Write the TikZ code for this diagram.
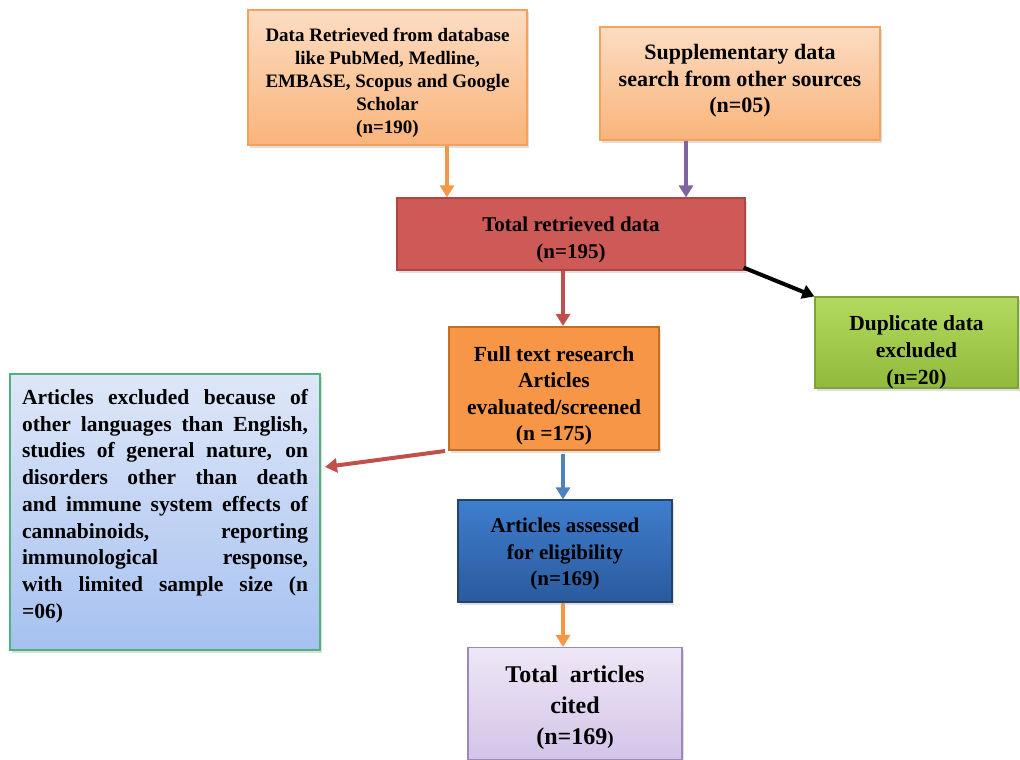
\documentclass[tikz,border=0pt]{standalone}
\usepackage{fontspec}
\setmainfont{Liberation Serif}
\usetikzlibrary{arrows.meta,shadows}
\definecolor{peachT}{HTML}{FCDCC2}
\definecolor{peachB}{HTML}{F9B47A}
\definecolor{peachD}{HTML}{F5A25C}
\definecolor{redF}{HTML}{CD5A56}
\definecolor{redD}{HTML}{B04642}
\definecolor{grnT}{HTML}{B3DA5E}
\definecolor{grnB}{HTML}{90BA3C}
\definecolor{grnD}{HTML}{7FA23A}
\definecolor{orgF}{HTML}{F79646}
\definecolor{orgD}{HTML}{C46E22}
\definecolor{bluT}{HTML}{DEE7F8}
\definecolor{bluB}{HTML}{A6C1F0}
\definecolor{bluD}{HTML}{4DB37A}
\definecolor{dbT}{HTML}{3F7ECE}
\definecolor{dbB}{HTML}{2A5A9D}
\definecolor{dbD}{HTML}{23426E}
\definecolor{lavT}{HTML}{EEE7F6}
\definecolor{lavB}{HTML}{D3C4E8}
\definecolor{lavD}{HTML}{9C88BA}
\definecolor{arOrg}{HTML}{F79646}
\definecolor{arPur}{HTML}{8064A2}
\definecolor{arRed}{HTML}{C0504D}
\definecolor{arBlu}{HTML}{4F81BD}
\begin{document}
\begin{tikzpicture}[x=1pt,y=-1pt,
  box/.style={draw, line width=1.2pt, inner sep=0pt,
    drop shadow={opacity=0.25, shadow xshift=2pt, shadow yshift=-2.5pt}},
  txt/.style={inner sep=0pt, align=center,
    font=\bfseries\fontsize{21}{26.5}\selectfont},
  arr/.style={line width=4pt, -{Triangle[width=14pt,length=12pt]}}
]
\useasboundingbox (0,0) rectangle (1020,760);

% boxes
\node[box, top color=peachT, bottom color=peachB, draw=peachD,
  minimum width=279pt, minimum height=135pt] (A) at (387.5,77.5) {};
\node[box, top color=peachT, bottom color=peachB, draw=peachD,
  minimum width=280pt, minimum height=113pt] (B) at (740,83.5) {};
\node[box, fill=redF, draw=redD,
  minimum width=348pt, minimum height=72pt] (C) at (571,234) {};
\node[box, top color=grnT, bottom color=grnB, draw=grnD,
  minimum width=203pt, minimum height=91pt] (D) at (916.5,342.5) {};
\node[box, fill=orgF, draw=orgD, line width=2pt,
  minimum width=210pt, minimum height=123pt] (E) at (554,388.5) {};
\node[box, top color=bluT, bottom color=bluB, draw=bluD,
  minimum width=310pt, minimum height=276pt] (F) at (165,512) {};
\node[box, top color=dbT, bottom color=dbB, draw=dbD,
  minimum width=214pt, minimum height=102pt] (G) at (565,551) {};
\node[box, top color=lavT, bottom color=lavB, draw=lavD,
  minimum width=214pt, minimum height=112pt] (H) at (575,703.5) {};

% texts
\node[txt, font=\bfseries\fontsize{19}{23}\selectfont] (At) at (387.5,82.5)
  {Data Retrieved from database\\like PubMed, Medline,\\EMBASE, Scopus and Google\\Scholar\\(n=190)};
\node[txt, font=\bfseries\fontsize{22}{26.5}\selectfont] (Bt) at (740,81)
  {Supplementary data\\search from other sources\\(n=05)};
\node[txt] (Ct) at (571,240) {Total retrieved data\\(n=195)};
\node[txt, font=\bfseries\fontsize{21.5}{27}\selectfont] (Dt) at (916.5,352)
  {Duplicate data\\excluded\\(n=20)};
\node[txt, font=\bfseries\fontsize{21.5}{26.5}\selectfont] (Et) at (554,396)
  {Full text research\\Articles\\evaluated/screened\\(n =175)};
\node[txt, align=left, font=\bfseries\fontsize{21.5}{26.75}\selectfont] (Ft) at (165,506)
  {\makebox[286pt][s]{Articles excluded because of}\\
   \makebox[286pt][s]{other languages than English,}\\
   \makebox[286pt][s]{studies of general nature, on}\\
   \makebox[286pt][s]{disorders other than death}\\
   \makebox[286pt][s]{and immune system effects of}\\
   \makebox[286pt][s]{cannabinoids, reporting}\\
   \makebox[286pt][s]{immunological response,}\\
   \makebox[286pt][s]{with limited sample size (n}\\
   =06)};
\node[txt] (Gt) at (565,554) {Articles assessed\\for eligibility\\(n=169)};
\node[txt, font=\bfseries\fontsize{24}{31}\selectfont] (Ht) at (575,708)
  {Total\ \ articles\\cited\\(n=169{\fontsize{19}{31}\selectfont)}};

% connectors
\coordinate (Fend) at (325,467);
\draw[arr, arOrg] (A.south -| 447,0) -- (C.north -| 447,0);
\draw[arr, arPur] (B.south -| 686,0) -- (C.north -| 686,0);
\draw[arr, arRed] (C.south -| 563,0) -- (E.north -| 563,0);
\draw[arr, black] ([xshift=-2pt,yshift=3pt]C.south east) -- (D.north west);
\draw[arr, arRed] ([xshift=-3pt]E.south west) -- (Fend);
\draw[arr, arBlu] ([yshift=-3pt]E.south -| 563,0) -- (G.north -| 563,0);
\draw[arr, arOrg] (G.south -| 563,0) -- (H.north -| 563,0);
\end{tikzpicture}
\end{document}
